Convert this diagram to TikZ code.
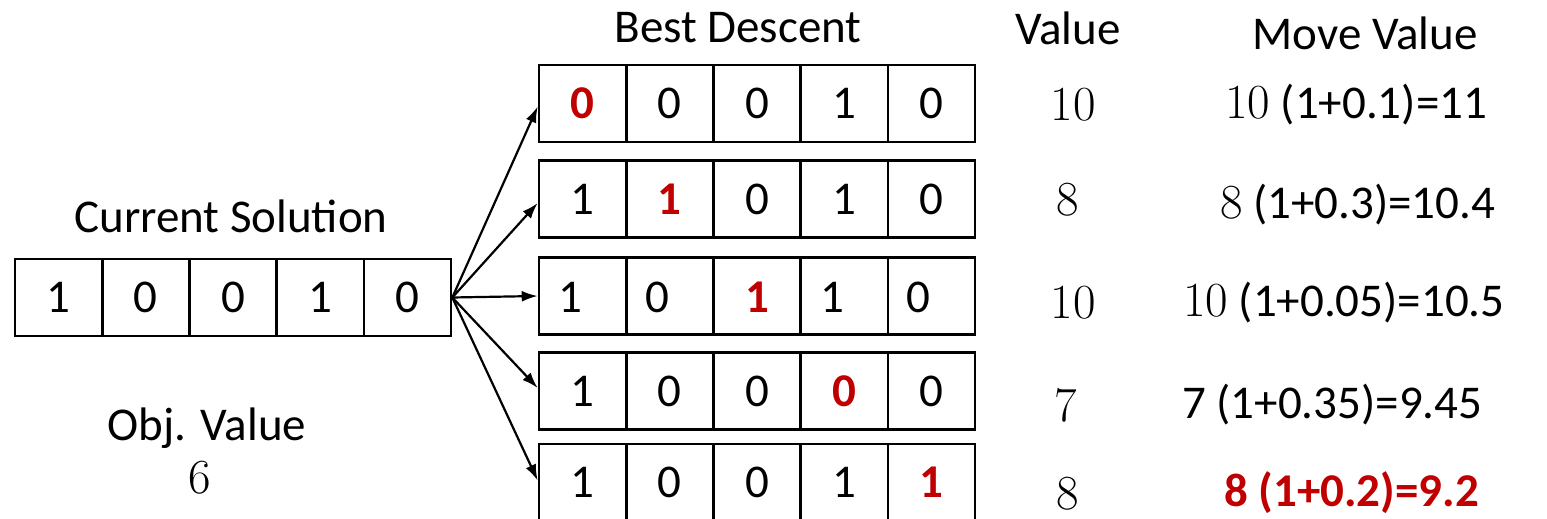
\documentclass[tikz,border=0pt]{standalone}
\usepackage{fontspec}
\newfontfamily\calib{Carlito}
\usetikzlibrary{arrows.meta,calc}
\definecolor{hred}{HTML}{C00000}
\newcommand\bigtxt{\fontsize{47}{54}\selectfont}
\newcommand\serifnum{\normalfont\fontsize{49}{56}\selectfont}
\tikzset{
  cell/.style={draw, line width=2.6pt, minimum width=87.2pt, minimum height=77pt, inner sep=0pt, font=\calib\bigtxt},
  lbl/.style={inner sep=0pt, font=\calib\bigtxt},
  num/.style={inner sep=0pt, font=\serifnum},
  hi/.style={text=hred, font=\calib\bfseries\bigtxt},
  arr/.style={line width=2.2pt, -{Latex[length=16pt,width=11pt]}}
}
\begin{document}
\begin{tikzpicture}[x=1pt,y=-1pt]
\useasboundingbox (0,0) rectangle (1547,519);
% current solution
\foreach \v [count=\i] in {1,0,0,1,0}{
  \node[cell] (c\i) at ({15+43.6+87.2*(\i-1)},297.5) {\v};
}
% neighbour rows
\node[cell] (a1) at ({582.6},103.5) {};
\node[cell] (a2) at ({669.8},103.5) {0};
\node[cell] (a3) at ({757},103.5) {0};
\node[cell] (a4) at ({844.2},103.5) {1};
\node[cell] (a5) at ({931.4},103.5) {0};
\node[hi] at (a1) {0};

\node[cell] (b1) at ({582.6},199) {1};
\node[cell] (b2) at ({669.8},199) {};
\node[cell] (b3) at ({757},199) {0};
\node[cell] (b4) at ({844.2},199) {1};
\node[cell] (b5) at ({931.4},199) {0};
\node[hi] at (b2) {1};

\node[cell] (d1) at ({582.6},296) {};
\node[cell] (d2) at ({669.8},296) {};
\node[cell] (d3) at ({757},296) {};
\node[cell] (d4) at ({844.2},296) {};
\node[cell] (d5) at ({931.4},296) {};
\node[lbl] at (570,297) {1};
\node[lbl] at (657,297) {0};
\node[hi] at (757,297) {1};
\node[lbl] at (832,297) {1};
\node[lbl] at (918,297) {0};

\node[cell] (e1) at ({582.6},391) {1};
\node[cell] (e2) at ({669.8},391) {0};
\node[cell] (e3) at ({757},391) {0};
\node[cell] (e4) at ({844.2},391) {};
\node[cell] (e5) at ({931.4},391) {0};
\node[hi] at (e4) {0};

\node[cell] (f1) at ({582.6},482.5) {1};
\node[cell] (f2) at ({669.8},482.5) {0};
\node[cell] (f3) at ({757},482.5) {0};
\node[cell] (f4) at ({844.2},482.5) {1};
\node[cell] (f5) at ({931.4},482.5) {};
\node[hi] at (f5) {1};

% arrows
\draw[arr] (c5.east) -- ($(a1.west)+(0,3)$);
\draw[arr] (c5.east) -- ($(b1.west)+(0,4)$);
\draw[arr] (c5.east) -- (d1.west);
\draw[arr] (c5.east) -- ($(e1.west)+(0,-3)$);
\draw[arr] (c5.east) -- ($(f1.west)+(0,-2)$);

% headers
\node[lbl] (hbd) at (738,28) {Best Descent};
\node[lbl] (hv) at (1068,28) {Value};
\node[lbl] (hmv) at (1365,33) {Move Value};
\node[lbl] (hcs) at (231,216) {Current Solution};
\node[lbl] (hov) at (207,428) {Obj. Value};
\node[num] (ov) at (200,478) {6};

% values
\node[num] (v1) at (1073,105) {10};
\node[num] (v2) at (1068,200) {8};
\node[num] (v3) at (1073,303) {10};
\node[num] (v4) at (1066,405) {7};
\node[num] (v5) at (1068,494) {8};

% move values
\node[lbl, anchor=west] (m1) at (1225,105) {{\serifnum 10} (1+0.1)=11};
\node[lbl, anchor=west] (m2) at (1220,205) {{\serifnum 8} (1+0.3)=10.4};
\node[lbl, anchor=west] (m3) at (1183,303) {{\serifnum 10} (1+0.05)=10.5};
\node[lbl, anchor=west] (m4) at (1182,405) {7 (1+0.35)=9.45};
\node[lbl, anchor=west, text=hred, font=\calib\bfseries\bigtxt] (m5) at (1224,493) {8 (1+0.2)=9.2};
\end{tikzpicture}
\end{document}
